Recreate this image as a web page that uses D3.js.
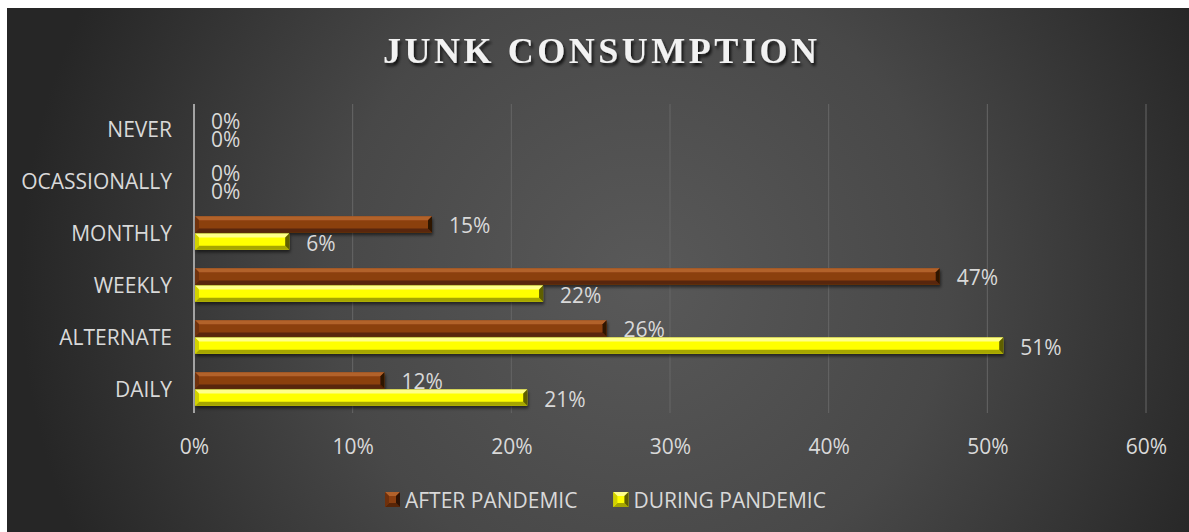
<!DOCTYPE html>
<html>
<head>
<meta charset="utf-8">
<script src="https://cdn.jsdelivr.net/npm/d3@7"></script>
<style>
  html, body { margin: 0; padding: 0; background: #ffffff; }
  svg { display: block; }
</style>
</head>
<body>
<svg id="chart" width="1189" height="532"></svg>
<script>
// Junk food consumption frequency, after vs. during the pandemic
const categories = ["NEVER", "OCASSIONALLY", "MONTHLY", "WEEKLY", "ALTERNATE", "DAILY"];
const afterPandemic = [0, 0, 0.15, 0.47, 0.26, 0.12];
const duringPandemic = [0, 0, 0.06, 0.22, 0.51, 0.21];
const seriesNames = ["AFTER PANDEMIC", "DURING PANDEMIC"];
const xTicks = [0, 0.1, 0.2, 0.3, 0.4, 0.5, 0.6];

const W = 1189, H = 532;
const svg = d3.select("#chart");
const defs = svg.append("defs");

// chart area background: soft radial grey
const bg = defs.append("radialGradient").attr("id", "bgGrad")
  .attr("gradientUnits", "userSpaceOnUse")
  .attr("cx", 640).attr("cy", 280).attr("r", 620);
bg.append("stop").attr("offset", 0).attr("stop-color", "#595959");
bg.append("stop").attr("offset", 0.5).attr("stop-color", "#484848");
bg.append("stop").attr("offset", 1).attr("stop-color", "#262626");

const titleShadow = defs.append("filter").attr("id", "titleShadow")
  .attr("x", "-10%").attr("y", "-30%").attr("width", "120%").attr("height", "160%");
titleShadow.append("feDropShadow").attr("dx", 2).attr("dy", 3)
  .attr("stdDeviation", 1.8).attr("flood-color", "#000").attr("flood-opacity", 0.75);

const barShadow = defs.append("filter").attr("id", "barShadow")
  .attr("x", "-5%").attr("y", "-30%").attr("width", "110%").attr("height", "180%");
barShadow.append("feDropShadow").attr("dx", 1).attr("dy", 2.5)
  .attr("stdDeviation", 1.5).attr("flood-color", "#000").attr("flood-opacity", 0.55);

svg.append("rect").attr("x", 7).attr("y", 8).attr("width", W - 7).attr("height", H - 8)
  .attr("fill", "url(#bgGrad)");

// scales
const x = d3.scaleLinear().domain([0, 0.6]).range([194, 1146]);
const y = d3.scaleBand().domain(categories).range([103, 415])
  .paddingInner(0.36).paddingOuter(0.18);
const ySub = d3.scaleBand().domain(seriesNames).range([0, y.bandwidth()]).paddingInner(0.06);

const labelFont = "'Open Sans', 'DejaVu Sans', sans-serif";
const fontSize = 21;
const textColor = "#d9d9d9";

// gridlines
svg.append("g").selectAll("line").data(xTicks.slice(1)).join("line")
  .attr("x1", d => x(d)).attr("x2", d => x(d))
  .attr("y1", 104).attr("y2", 413)
  .attr("stroke", "#666666").attr("stroke-width", 1);

// x tick labels via axis
const xAxis = d3.axisBottom(x).tickValues(xTicks).tickFormat(d3.format(".0%")).tickSize(0).tickPadding(0);
const gx = svg.append("g").attr("transform", "translate(0,446)").call(xAxis);
gx.select(".domain").remove();
gx.selectAll("text").attr("dy", null).attr("dominant-baseline", "central")
  .attr("font-family", labelFont).attr("font-size", fontSize).attr("fill", textColor);

// category axis
const yAxis = d3.axisLeft(y).tickSize(0).tickPadding(0);
const gy = svg.append("g").attr("transform", "translate(172,0)").call(yAxis);
gy.select(".domain").remove();
gy.selectAll("text").attr("dy", null).attr("dominant-baseline", "central")
  .attr("font-family", labelFont).attr("font-size", fontSize).attr("fill", textColor);

svg.append("line").attr("x1", x(0)).attr("x2", x(0)).attr("y1", 104).attr("y2", 413)
  .attr("stroke", "#a3a3a3").attr("stroke-width", 2);

// bevelled bar styles
const styles = {
  "AFTER PANDEMIC":  { face: "#8b3f10", top: "#b2622b", bottom: "#582507", left: "#6f300c", right: "#2e1304" },
  "DURING PANDEMIC": { face: "#ffff00", top: "#ffff8a", bottom: "#a6a600", left: "#d2d200", right: "#5e5e00" }
};

function bevel(g, x0, x1, y0, y1, st) {
  const b = Math.min(4, (x1 - x0) / 2, (y1 - y0) / 2);
  const poly = pts => pts.map(p => p.join(",")).join(" ");
  g.append("rect").attr("x", x0).attr("y", y0).attr("width", x1 - x0).attr("height", y1 - y0).attr("fill", st.face);
  g.append("polygon").attr("points", poly([[x0, y0], [x1, y0], [x1 - b, y0 + b], [x0 + b, y0 + b]])).attr("fill", st.top);
  g.append("polygon").attr("points", poly([[x0, y1], [x1, y1], [x1 - b, y1 - b], [x0 + b, y1 - b]])).attr("fill", st.bottom);
  g.append("polygon").attr("points", poly([[x0, y0], [x0 + b, y0 + b], [x0 + b, y1 - b], [x0, y1]])).attr("fill", st.left);
  g.append("polygon").attr("points", poly([[x1, y0], [x1 - b, y0 + b], [x1 - b, y1 - b], [x1, y1]])).attr("fill", st.right);
}

const seriesData = [afterPandemic, duringPandemic];
const barsG = svg.append("g");
const labelsG = svg.append("g");

seriesNames.forEach((name, si) => {
  seriesData[si].forEach((v, ci) => {
    const cat = categories[ci];
    const y0 = y(cat) + ySub(name);
    const y1 = y0 + ySub.bandwidth();
    if (v > 0) {
      const g = barsG.append("g").attr("filter", "url(#barShadow)");
      bevel(g, x(0) + 1, x(v), y0, y1, styles[name]);
    }
    labelsG.append("text")
      .attr("x", x(v) + 17).attr("y", (y0 + y1) / 2 + 1)
      .attr("dominant-baseline", "central")
      .attr("font-family", labelFont).attr("font-size", fontSize).attr("fill", textColor)
      .text(d3.format(".0%")(v));
  });
});

// title
svg.append("text")
  .attr("x", 600).attr("y", 63)
  .attr("text-anchor", "middle")
  .attr("font-family", "'Liberation Serif', 'Times New Roman', serif")
  .attr("font-weight", "bold").attr("font-size", 36)
  .attr("textLength", 434).attr("lengthAdjust", "spacing")
  .attr("fill", "#f2f2f2").attr("filter", "url(#titleShadow)")
  .text("JUNK CONSUMPTION");

// legend
const legend = svg.append("g");
let lx = 385;
seriesNames.forEach(name => {
  const item = legend.append("g");
  bevel(item, lx, lx + 15, 492, 507, styles[name]);
  const t = item.append("text")
    .attr("x", lx + 20).attr("y", 500)
    .attr("dominant-baseline", "central")
    .attr("font-family", labelFont).attr("font-size", fontSize).attr("fill", textColor)
    .text(name);
  lx += 20 + t.node().getComputedTextLength() + 36;
});
</script>
</body>
</html>
